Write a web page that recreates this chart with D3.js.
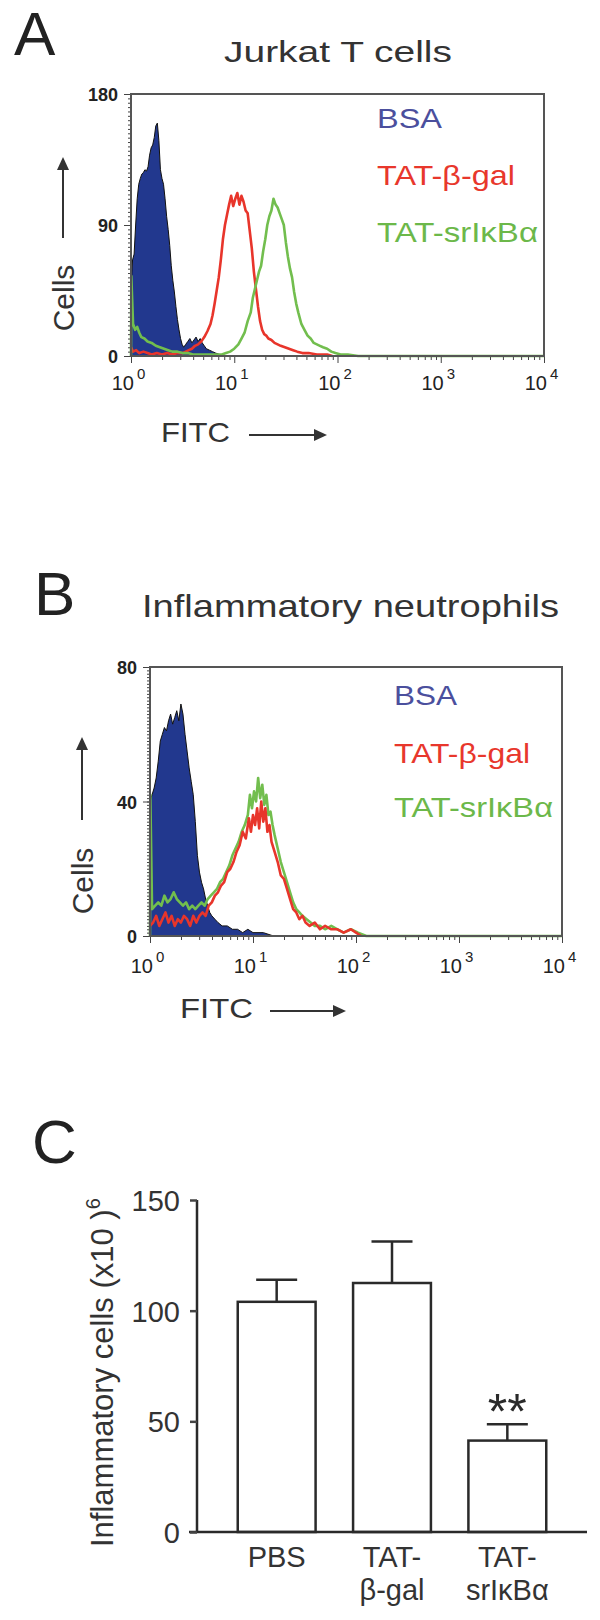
<!DOCTYPE html>
<html>
<head>
  <meta charset="utf-8">
  <title>TAT-srIkBa figure</title>
  <style>
    body {
      margin: 0;
      background-color: #fff;
    }
    svg {
      display: block;
      font-family: "Liberation Sans", Arial, Helvetica, sans-serif;
    }
    .frame { fill: none; stroke: #555; stroke-width: 2; }
    .tick line { stroke: #444; }
    .ylab { font-weight: bold; font-size: 18px; fill: #222; text-anchor: end; }
    .dec { font-size: 20px; fill: #222; }
    .panel { font-size: 62px; fill: #222; }
    .title { font-size: 29px; fill: #333; }
    .legend { font-size: 28px; }
    .axlab { font-size: 30px; fill: #333; }
  </style>
</head>
<body>
<svg id="fig" width="600" height="1620"></svg>
<script src="https://cdn.jsdelivr.net/npm/d3@7"></script>
<script>
// ---- panel A data: [log10 FITC, cells] ----
var bsaA = [[0,45],[0.015,66],[0.03,70],[0.045,90],[0.06,108],[0.075,118],[0.09,122],[0.105,125],
  [0.12,126],[0.135,128],[0.15,127],[0.165,130],[0.18,138],[0.195,143],[0.21,145],[0.225,150],
  [0.24,158],[0.255,160],[0.27,148],[0.285,128],[0.3,122],[0.315,118],[0.33,108],[0.345,96],
  [0.36,87],[0.375,76],[0.39,62],[0.405,52],[0.42,44],[0.435,34],[0.45,25],[0.465,18],[0.48,12],
  [0.495,8],[0.51,6],[0.53,8],[0.55,10],[0.57,12],[0.59,9],[0.61,11],[0.63,13],[0.65,10],
  [0.67,12],[0.69,9],[0.71,7],[0.73,5],[0.76,4],[0.79,3],[0.82,2],[0.86,1],[0.9,0]];
var galA = [[0,6],[0.02,3],[0.05,4],[0.08,2],[0.12,3],[0.16,2],[0.2,1],[0.25,2],[0.3,1],[0.35,2],
  [0.4,1],[0.45,2],[0.5,2],[0.53,3],[0.56,4],[0.59,5],[0.62,7],[0.65,8],[0.68,10],[0.71,13],
  [0.74,17],[0.77,22],[0.79,28],[0.81,36],[0.83,45],[0.85,54],[0.87,66],[0.89,80],[0.91,90],
  [0.93,97],[0.95,104],[0.97,110],[0.99,103],[1.01,108],[1.03,112],[1.05,104],[1.07,110],
  [1.09,106],[1.11,100],[1.13,98],[1.15,86],[1.17,74],[1.19,58],[1.21,46],[1.23,34],[1.25,24],
  [1.27,18],[1.29,15],[1.31,14],[1.33,12],[1.36,11],[1.39,9],[1.42,8],[1.45,7],[1.49,6],
  [1.53,5],[1.57,4],[1.61,3],[1.66,2],[1.72,2],[1.8,1],[1.9,1],[1.95,0]];
var srA = [[0,0],[0.003,55],[0.02,22],[0.04,18],[0.06,20],[0.08,16],[0.1,13],[0.13,12],[0.16,10],
  [0.2,9],[0.24,7],[0.28,6],[0.32,5],[0.36,4],[0.4,3],[0.45,3],[0.5,2],[0.55,2],[0.6,1],
  [0.7,1],[0.8,1],[0.88,1],[0.92,2],[0.96,3],[1.0,5],[1.04,8],[1.07,12],[1.1,16],[1.13,24],
  [1.16,30],[1.18,40],[1.2,46],[1.22,52],[1.24,58],[1.26,62],[1.28,72],[1.3,80],[1.32,90],
  [1.34,96],[1.36,100],[1.38,108],[1.4,104],[1.42,102],[1.44,98],[1.46,94],[1.48,90],[1.5,78],
  [1.52,68],[1.54,60],[1.56,54],[1.58,44],[1.6,36],[1.62,30],[1.65,22],[1.68,18],[1.71,14],
  [1.74,12],[1.77,9],[1.8,8],[1.83,7],[1.86,6],[1.9,5],[1.94,3],[1.98,2],[2.03,1],[2.1,1],
  [2.2,0],[4,0]];

// ---- panel B data ----
var bsaB = [[0,40],[0.02,42],[0.04,44],[0.06,47],[0.08,52],[0.1,58],[0.12,60],[0.14,62],[0.16,61],
  [0.18,64],[0.2,66],[0.22,63],[0.24,65],[0.26,67],[0.28,64],[0.3,69],[0.32,66],[0.34,60],
  [0.36,55],[0.38,50],[0.4,46],[0.42,42],[0.44,34],[0.46,24],[0.48,19],[0.5,16],[0.52,14],
  [0.54,11],[0.56,9],[0.58,7],[0.6,6],[0.63,5],[0.66,4],[0.7,3],[0.75,3],[0.8,2],[0.85,2],
  [0.9,1],[0.95,2],[1.0,1],[1.1,1],[1.2,0]];
var galB = [[0,3],[0.03,4],[0.06,6],[0.09,3],[0.12,5],[0.15,7],[0.18,4],[0.21,6],[0.24,3],[0.27,5],
  [0.3,4],[0.33,6],[0.36,5],[0.39,3],[0.42,6],[0.45,4],[0.48,6],[0.51,7],[0.54,6],[0.57,9],
  [0.6,10],[0.63,12],[0.66,13],[0.69,15],[0.72,16],[0.75,19],[0.78,20],[0.81,22],[0.84,25],
  [0.87,27],[0.9,31],[0.93,29],[0.96,35],[0.98,31],[1.0,36],[1.02,33],[1.04,38],[1.06,32],
  [1.08,40],[1.1,34],[1.12,38],[1.14,31],[1.16,33],[1.18,28],[1.21,25],[1.24,22],[1.27,18],
  [1.3,17],[1.33,14],[1.36,11],[1.39,8],[1.42,7],[1.45,5],[1.48,6],[1.51,4],[1.55,3],[1.6,4],
  [1.65,2],[1.7,3],[1.76,2],[1.82,2],[1.88,1],[1.95,2],[2.0,1],[2.05,0]];
var srB = [[0,0],[0.003,42],[0.02,8],[0.05,9],[0.08,10],[0.11,9],[0.14,12],[0.17,10],[0.2,11],
  [0.23,13],[0.26,11],[0.29,10],[0.32,9],[0.35,10],[0.38,8],[0.41,9],[0.44,8],[0.47,9],[0.5,10],
  [0.53,9],[0.56,11],[0.59,12],[0.62,13],[0.65,14],[0.68,16],[0.71,17],[0.74,19],[0.77,21],
  [0.8,24],[0.83,26],[0.86,28],[0.89,31],[0.92,33],[0.95,36],[0.97,42],[0.99,38],[1.01,43],
  [1.03,40],[1.05,47],[1.07,41],[1.09,45],[1.11,39],[1.13,42],[1.15,36],[1.17,37],[1.19,33],
  [1.21,30],[1.24,26],[1.27,22],[1.3,19],[1.33,16],[1.36,13],[1.39,10],[1.42,8],[1.45,7],
  [1.48,6],[1.52,5],[1.56,4],[1.6,3],[1.65,3],[1.7,2],[1.76,3],[1.82,2],[1.88,1],[1.95,2],
  [2.02,1],[2.1,0],[4,0]];

var legendNames = ["BSA", "TAT-\u03b2-gal", "TAT-srI\u03baB\u03b1"];
var legendColors = ["#4b4f9d", "#e8372c", "#6cb84a"];

// ---- panel C data ----
var groups = ["PBS", "TAT-\u03b2-gal", "TAT-srI\u03baB\u03b1"];
var groupLines = [["PBS"], ["TAT-", "\u03b2-gal"], ["TAT-", "srI\u03baB\u03b1"]];
var cellMeans = [104, 112.5, 41.3];
var cellSem = [10, 18.8, 7.4];
var yTicksC = [0, 50, 100, 150];

var svg = d3.select("#fig");

/* one flow cytometry histogram panel */
function histoPanel(o) {
  var g = svg.append("g");
  var x = d3.scaleLog().domain([1, 1e4]).range([o.x0, o.x1]);
  var y = d3.scaleLinear().domain([0, o.ymax]).range([o.y0, o.y1]);
  var px = function(d) { return x(Math.pow(10, d[0])); };

  // BSA filled histogram
  g.append("path").datum(o.bsa)
    .attr("d", d3.area().x(px).y0(y(0)).y1(function(d) { return y(d[1]); }))
    .attr("fill", "#22388e").attr("stroke", "#111").attr("stroke-width", 1);

  var line = d3.line().x(px).y(function(d) { return y(d[1]); });
  o.order.forEach(function(k) {
    g.append("path").datum(k === "gal" ? o.gal : o.sr)
      .attr("d", line).attr("fill", "none")
      .attr("stroke", k === "gal" ? "#e8352b" : "#72be4e")
      .attr("stroke-width", 2.6).attr("stroke-linejoin", "round");
  });

  // y minor + major ticks
  g.append("g").attr("transform", "translate(" + o.x0 + ",0)")
    .call(d3.axisLeft(y).tickValues(d3.range(0, o.ymax + 0.01, o.yminor)).tickSize(3).tickFormat(""))
    .call(function(s) { s.select(".domain").remove(); });
  g.append("g").attr("transform", "translate(" + o.x0 + ",0)")
    .call(d3.axisLeft(y).tickValues([0, o.ymax / 2, o.ymax]).tickSize(7).tickFormat(""))
    .call(function(s) { s.select(".domain").remove(); });
  g.selectAll(".ylab").data([0, o.ymax / 2, o.ymax]).enter().append("text")
    .attr("class", "ylab")
    .attr("x", o.x0 - 13).attr("y", function(d) { return y(d) + 7; })
    .text(function(d) { return d; });

  // x ticks, log decades
  var minors = [];
  [1, 10, 100, 1000].forEach(function(dec) {
    for (var m = 2; m < 10; m++) minors.push(dec * m);
  });
  g.append("g").attr("transform", "translate(0," + o.y0 + ")")
    .call(d3.axisBottom(x).tickValues(minors).tickSize(4).tickFormat(""))
    .call(function(s) { s.select(".domain").remove(); });
  var decades = [0, 1, 2, 3, 4];
  g.append("g").attr("transform", "translate(0," + o.y0 + ")")
    .call(d3.axisBottom(x).tickValues(decades.map(function(e) { return Math.pow(10, e); })).tickSize(7).tickFormat(""))
    .call(function(s) { s.select(".domain").remove(); });
  var dl = g.selectAll(".declab").data(decades).enter().append("g");
  dl.append("text").attr("class", "dec").attr("text-anchor", "end")
    .attr("x", function(e) { return x(Math.pow(10, e)) + 3; })
    .attr("y", o.y0 + o.decDy)
    .text("10");
  dl.append("text").attr("class", "dec").style("font-size", "15px")
    .attr("x", function(e) { return x(Math.pow(10, e)) + 6; })
    .attr("y", o.y0 + o.decDy - 11)
    .text(function(e) { return e; });

  g.append("rect").attr("class", "frame")
    .attr("x", o.x0).attr("y", o.y1).attr("width", o.x1 - o.x0).attr("height", o.y0 - o.y1);

  // legend
  g.selectAll(".legend").data(legendNames).enter().append("text")
    .attr("class", "legend")
    .attr("x", o.legX).attr("y", function(d, i) { return o.legY[i]; })
    .attr("fill", function(d, i) { return legendColors[i]; })
    .attr("textLength", function(d, i) { return o.legW[i]; })
    .attr("lengthAdjust", "spacingAndGlyphs")
    .text(function(d) { return d; });

  // titles and axis labels
  svg.append("text").attr("class", "panel").attr("x", o.letterX).attr("y", o.letterY).text(o.letter);
  svg.append("text").attr("class", "title").style("font-size", o.titleSize + "px")
    .attr("x", o.titleX).attr("y", o.titleY)
    .attr("textLength", o.titleW).attr("lengthAdjust", "spacingAndGlyphs")
    .text(o.title);
  svg.append("text").attr("class", "axlab")
    .attr("transform", "translate(" + o.cellsX + "," + o.cellsY + ") rotate(-90)")
    .attr("text-anchor", "middle").text("Cells");
  arrow(o.arrowX, o.arrowY0, o.arrowX, o.arrowY1);
  svg.append("text").attr("class", "axlab").style("font-size", "28px")
    .attr("x", o.fitcX).attr("y", o.fitcY)
    .attr("textLength", o.fitcW).attr("lengthAdjust", "spacingAndGlyphs")
    .text("FITC");
  arrow(o.farrX0, o.farrY, o.farrX1, o.farrY);
}

/* line with a filled triangular head at (x2,y2) */
function arrow(x1, y1, x2, y2) {
  var a = Math.atan2(y2 - y1, x2 - x1), L = 13, W = 6;
  var bx = x2 - L * Math.cos(a), by = y2 - L * Math.sin(a);
  svg.append("line").attr("x1", x1).attr("y1", y1).attr("x2", bx).attr("y2", by)
    .attr("stroke", "#333").attr("stroke-width", 2);
  svg.append("path")
    .attr("d", "M" + x2 + "," + y2 +
      "L" + (bx - W * Math.sin(a)) + "," + (by + W * Math.cos(a)) +
      "L" + (bx + W * Math.sin(a)) + "," + (by - W * Math.cos(a)) + "Z")
    .attr("fill", "#333");
}

histoPanel({
  letter: "A", letterX: 14, letterY: 55,
  title: "Jurkat T cells", titleX: 224, titleY: 62, titleW: 228, titleSize: 29,
  x0: 131, x1: 544, y0: 356, y1: 94, ymax: 180, yminor: 3, decDy: 34,
  bsa: bsaA, gal: galA, sr: srA, order: ["gal", "sr"],
  legX: 377, legY: [128, 185, 242], legW: [65, 138, 161],
  cellsX: 74, cellsY: 298, arrowX: 63, arrowY0: 238, arrowY1: 157,
  fitcX: 161, fitcY: 442, fitcW: 69, farrX0: 249, farrX1: 327, farrY: 435
});

histoPanel({
  letter: "B", letterX: 34, letterY: 615,
  title: "Inflammatory neutrophils", titleX: 142, titleY: 617, titleW: 417, titleSize: 32,
  x0: 150, x1: 562, y0: 936, y1: 667, ymax: 80, yminor: 1, decDy: 37,
  bsa: bsaB, gal: galB, sr: srB, order: ["sr", "gal"],
  legX: 394, legY: [705, 763, 817], legW: [63, 136, 159],
  cellsX: 93, cellsY: 881, arrowX: 82, arrowY0: 820, arrowY1: 737,
  fitcX: 180, fitcY: 1018, fitcW: 73, farrX0: 270, farrX1: 346, farrY: 1011
});

// ---- panel C: bar chart ----
var gc = svg.append("g");
var xc = d3.scaleBand().domain(groups).range([219, 565]).paddingInner(0.325).paddingOuter(0.1625);
var yc = d3.scaleLinear().domain([0, 150]).range([1532, 1200]);

svg.append("text").attr("class", "panel").attr("x", 32).attr("y", 1163).text("C");

gc.selectAll(".bar").data(groups).enter().append("rect")
  .attr("x", function(d) { return xc(d); })
  .attr("y", function(d, i) { return yc(cellMeans[i]); })
  .attr("width", xc.bandwidth())
  .attr("height", function(d, i) { return yc(0) - yc(cellMeans[i]); })
  .attr("fill", "#fff").attr("stroke", "#2a2a2a").attr("stroke-width", 2.5);

// error bars (upper only)
groups.forEach(function(d, i) {
  var cx = xc(d) + xc.bandwidth() / 2, top = yc(cellMeans[i] + cellSem[i]);
  gc.append("line").attr("x1", cx).attr("x2", cx)
    .attr("y1", yc(cellMeans[i])).attr("y2", top)
    .attr("stroke", "#2a2a2a").attr("stroke-width", 2.5);
  gc.append("line").attr("x1", cx - 20.5).attr("x2", cx + 20.5)
    .attr("y1", top).attr("y2", top)
    .attr("stroke", "#2a2a2a").attr("stroke-width", 2.5);
});

gc.append("text")
  .attr("x", xc(groups[2]) + xc.bandwidth() / 2).attr("y", 1429)
  .attr("text-anchor", "middle").style("font-size", "50px").attr("fill", "#2a2a2a")
  .text("**");

// axes
gc.append("line").attr("x1", 189).attr("x2", 587).attr("y1", yc(0)).attr("y2", yc(0))
  .attr("stroke", "#2a2a2a").attr("stroke-width", 2.5);
gc.append("g").attr("transform", "translate(197,0)")
  .call(d3.axisLeft(yc).tickValues(yTicksC).tickSize(7).tickPadding(10).tickFormat(d3.format("d")))
  .call(function(s) {
    s.select(".domain").attr("stroke", "#2a2a2a").attr("stroke-width", 2.5).attr("d", "M0," + yc(150) + "V" + yc(0));
    s.selectAll(".tick line").attr("stroke", "#2a2a2a").attr("stroke-width", 2.5);
    s.selectAll(".tick text").style("font-size", "29px").attr("fill", "#333")
      .attr("font-family", "Liberation Sans, Arial, sans-serif").attr("dy", "0.36em");
  });

gc.selectAll(".xlab").data(groups).enter().append("text")
  .attr("text-anchor", "middle").style("font-size", "29px").attr("fill", "#333")
  .attr("x", function(d) { return xc(d) + xc.bandwidth() / 2; })
  .each(function(d, i) {
    var t = d3.select(this);
    groupLines[i].forEach(function(s, j) {
      t.append("tspan").attr("x", xc(d) + xc.bandwidth() / 2).attr("y", 1567 + j * 33).text(s);
    });
  });

var yl = svg.append("text").attr("class", "axlab").style("font-size", "31px")
  .attr("transform", "translate(113,1547) rotate(-90)");
yl.append("tspan").text("Inflammatory cells (x10 )");
yl.append("tspan").attr("dy", -13).style("font-size", "20px").text("6");
</script>
</body>
</html>
